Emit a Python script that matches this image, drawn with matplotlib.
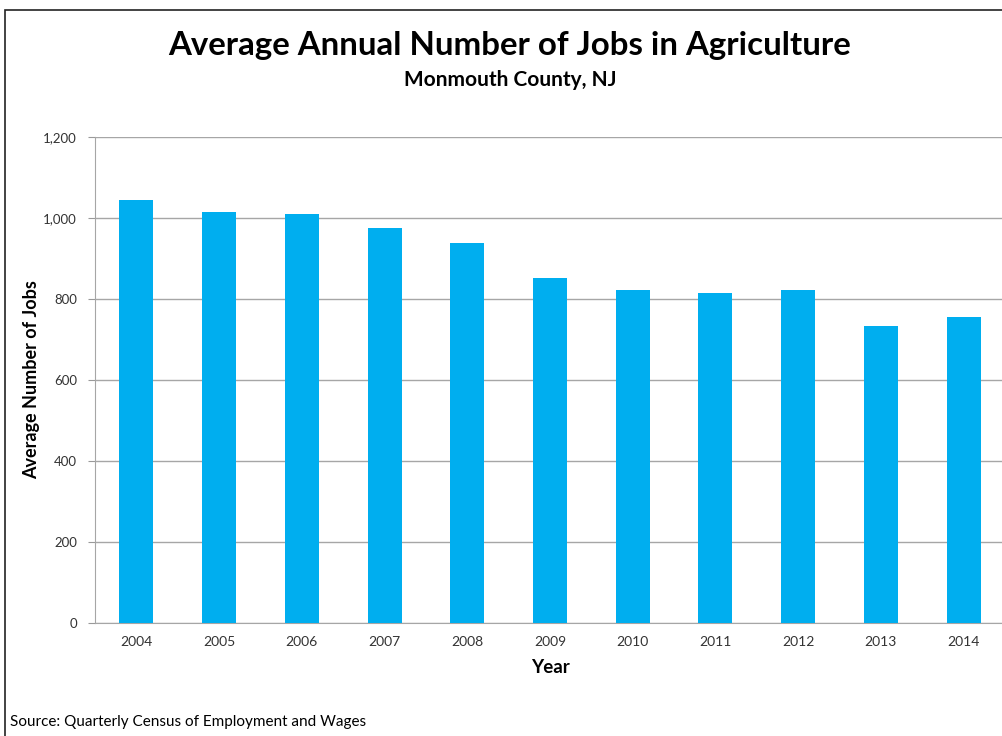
import matplotlib
matplotlib.use("Agg")
import matplotlib.pyplot as plt
from matplotlib.patches import Rectangle
import numpy as np

# data
years = ["2004", "2005", "2006", "2007", "2008", "2009",
         "2010", "2011", "2012", "2013", "2014"]
jobs = [1045, 1015, 1009, 975, 939, 852, 822, 814, 821, 733, 755]
yticks = [0, 200, 400, 600, 800, 1000, 1200]

plt.rcParams['font.family'] = ['Lato', 'DejaVu Sans']

fig = plt.figure(figsize=(10.03, 7.36), dpi=100)
fig.patch.set_facecolor("white")

# outer frame (right/bottom cut off in the reference)
fig.patches.append(Rectangle((5/1003, -0.1), 1.2, 1 - 10/736 + 0.1,
                             transform=fig.transFigure, fill=False,
                             edgecolor="#222222", linewidth=1.2))

ax = fig.add_axes([95/1003, 1 - 623.3/736, 910/1003, (623.3 - 136.7)/736])
x = np.arange(len(years))
ax.bar(x, jobs, width=0.41, color="#00AEEF", zorder=3)

ax.set_xlim(-0.5, len(years) - 0.5)
ax.set_ylim(0, 1200)
ax.set_yticks(yticks)
ax.set_yticklabels(["{:,}".format(v) for v in yticks], fontsize=9.5, color="#333333")
ax.set_xticks(x)
ax.set_xticklabels(years, fontsize=10, color="#333333")
ax.tick_params(axis="x", length=0, pad=9)
ax.tick_params(axis="y", length=5, color="#999999", pad=8, direction="out")

ax.yaxis.grid(True, color="#A6A6A6", linewidth=1.0, zorder=0)
for s in ["top", "right"]:
    ax.spines[s].set_visible(False)
ax.spines["left"].set_color("#A6A6A6")
ax.spines["bottom"].set_color("#A6A6A6")

ax.set_ylabel("Average Number of Jobs", fontsize=13, fontweight="bold", labelpad=2)
ax.set_xlabel("Year", fontsize=13.5, fontweight="bold", labelpad=8)

fig.text(510/1003, 1 - 45/736, "Average Annual Number of Jobs in Agriculture",
         ha="center", va="center", fontsize=23.8, fontweight="bold")
fig.text(510/1003, 1 - 80/736, "Monmouth County, NJ",
         ha="center", va="center", fontsize=15, fontweight="bold")
fig.text(10/1003, 1 - 722/736, "Source: Quarterly Census of Employment and Wages",
         ha="left", va="center", fontsize=11)

fig.savefig("out.png", dpi=100)
